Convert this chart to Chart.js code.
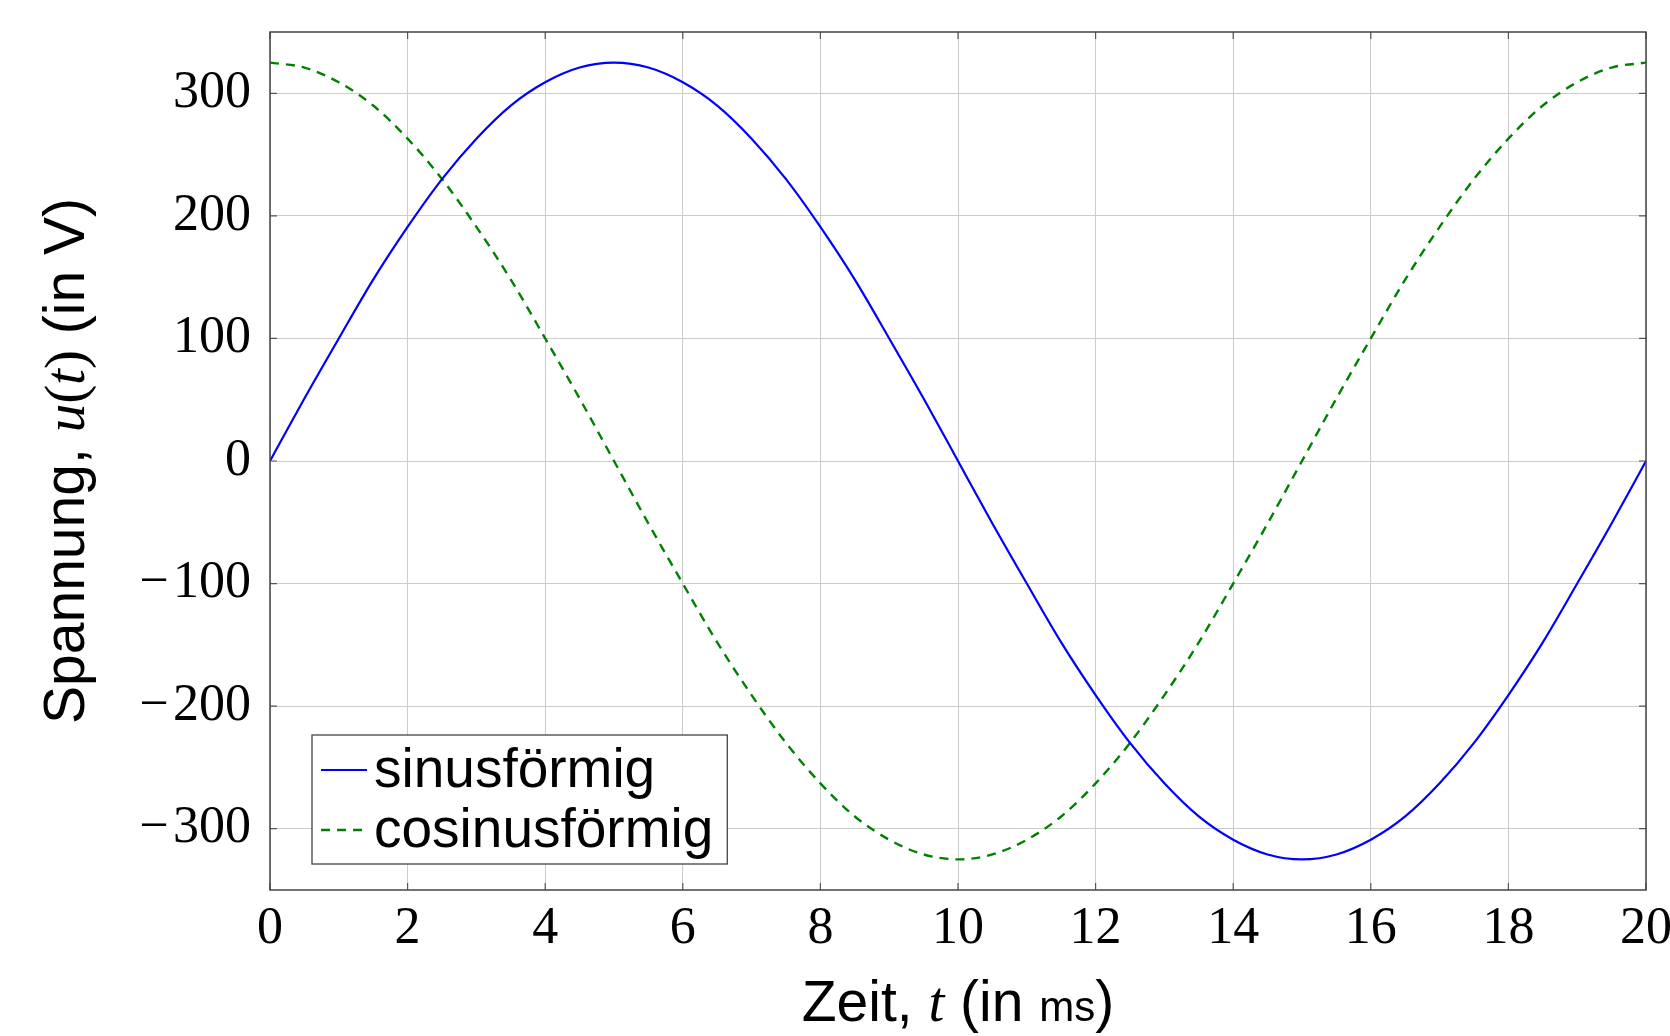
<!DOCTYPE html>
<html>
<head>
<meta charset="utf-8">
<script src="https://cdn.jsdelivr.net/npm/chart.js@4/dist/chart.umd.min.js"></script>
<style>
    body { margin: 0; background: #fff; }
</style>
</head>
<body>
<canvas id="grafico" width="1670" height="1036"></canvas>
<script>
// Zeit in ms
const zeit = [0, 0.5, 1, 1.5, 2, 2.5, 3, 3.5, 4, 4.5, 5, 5.5, 6, 6.5, 7, 7.5, 8, 8.5, 9, 9.5,
    10, 10.5, 11, 11.5, 12, 12.5, 13, 13.5, 14, 14.5, 15, 15.5, 16, 16.5, 17, 17.5, 18, 18.5, 19, 19.5, 20];

// Spannung in V
const sinus = [0, 51, 100, 148, 191, 230, 263, 290, 309, 321, 325, 321, 309, 290, 263, 230, 191, 148, 100, 51,
    0, -51, -100, -148, -191, -230, -263, -290, -309, -321, -325, -321, -309, -290, -263, -230, -191, -148, -100, -51, 0];
const cosinus = [325, 321, 309, 290, 263, 230, 191, 148, 100, 51, 0, -51, -100, -148, -191, -230, -263, -290, -309, -321,
    -325, -321, -309, -290, -263, -230, -191, -148, -100, -51, 0, 51, 100, 148, 191, 230, 263, 290, 309, 321, 325];

const xTicks = [0, 2, 4, 6, 8, 10, 12, 14, 16, 18, 20];
const yTicks = [-300, -200, -100, 0, 100, 200, 300];
const serien = ["sinusförmig", "cosinusförmig"];

const sans = "57px 'Liberation Sans'";
const klein = "42px 'Liberation Sans'";
const serif = "57px 'Liberation Serif'";
const kursiv = "italic 57px 'Liberation Serif'";
const legendeFont = "55px 'Liberation Sans'";

function zeichneText(ctx, teile, cx, y) {
    let breite = 0;
    teile.forEach(([t, f]) => { ctx.font = f; breite += ctx.measureText(t).width; });
    let x = cx - breite / 2;
    ctx.textAlign = "left";
    ctx.textBaseline = "alphabetic";
    teile.forEach(([t, f]) => {
        ctx.font = f;
        ctx.fillText(t, x, y);
        x += ctx.measureText(t).width;
    });
}

const rahmen = {
    id: "rahmen",
    afterDatasetsDraw(chart) {
        const { ctx, chartArea: a, scales } = chart;
        ctx.save();

        // kleine Striche innen
        ctx.strokeStyle = "#555";
        ctx.lineWidth = 1.2;
        ctx.beginPath();
        xTicks.forEach(v => {
            const x = scales.x.getPixelForValue(v);
            ctx.moveTo(x, a.bottom); ctx.lineTo(x, a.bottom - 7);
            ctx.moveTo(x, a.top); ctx.lineTo(x, a.top + 7);
        });
        yTicks.forEach(v => {
            const y = scales.y.getPixelForValue(v);
            ctx.moveTo(a.left, y); ctx.lineTo(a.left + 7, y);
            ctx.moveTo(a.right, y); ctx.lineTo(a.right - 7, y);
        });
        ctx.stroke();

        ctx.lineWidth = 1.5;
        ctx.strokeStyle = "#444";
        ctx.strokeRect(a.left, a.top, a.right - a.left, a.bottom - a.top);

        // Legende
        ctx.font = legendeFont;
        let textBreite = 0;
        chart.data.datasets.forEach(d => { textBreite = Math.max(textBreite, ctx.measureText(d.label).width); });
        const bx = a.left + 42, bh = 129, by = a.bottom - 26 - bh;
        const bw = 9 + 46 + 7 + textBreite + 14;
        ctx.fillStyle = "#fff";
        ctx.fillRect(bx, by, bw, bh);
        ctx.lineWidth = 1.3;
        ctx.strokeStyle = "#444";
        ctx.strokeRect(bx, by, bw, bh);

        chart.data.datasets.forEach((d, i) => {
            const basis = by + 52 + i * 60;
            ctx.beginPath();
            ctx.strokeStyle = d.borderColor;
            ctx.lineWidth = d.borderWidth;
            ctx.setLineDash(d.borderDash || []);
            ctx.moveTo(bx + 9, basis - 17);
            ctx.lineTo(bx + 55, basis - 17);
            ctx.stroke();
            ctx.setLineDash([]);
            ctx.fillStyle = "#000";
            ctx.font = legendeFont;
            ctx.textAlign = "left";
            ctx.textBaseline = "alphabetic";
            ctx.fillText(d.label, bx + 62, basis);
        });
        ctx.restore();
    },
    afterDraw(chart) {
        const { ctx, chartArea: a } = chart;
        ctx.save();
        ctx.fillStyle = "#000";
        zeichneText(ctx, [["Zeit, ", sans], ["t", kursiv], [" (in ", sans], ["ms", klein], [")", sans]],
            (a.left + a.right) / 2, 1021);

        ctx.translate(84, (a.top + a.bottom) / 2);
        ctx.rotate(-Math.PI / 2);
        zeichneText(ctx, [["Spannung, ", sans], ["u", kursiv], ["(", serif], ["t", kursiv], [")", serif], [" (in V)", sans]], 0, 0);
        ctx.restore();
    }
};

const grafico = document.getElementById("grafico");

new Chart(grafico, {
    type: "line",
    data: {
        datasets: [{
            label: serien[0],
            data: zeit.map((t, i) => ({ x: t, y: sinus[i] })),
            borderColor: "#0000ff",
            borderWidth: 2.2,
            pointRadius: 0,
            cubicInterpolationMode: "monotone",
            fill: false
        }, {
            label: serien[1],
            data: zeit.map((t, i) => ({ x: t, y: cosinus[i] })),
            borderColor: "#008000",
            borderWidth: 2.4,
            borderDash: [9, 7],
            pointRadius: 0,
            cubicInterpolationMode: "monotone",
            fill: false
        }]
    },
    options: {
        responsive: false,
        animation: false,
        devicePixelRatio: 1,
        layout: {
            padding: { left: 0, top: 32, right: 24, bottom: 0 }
        },
        plugins: {
            legend: { display: false },
            tooltip: { enabled: false }
        },
        scales: {
            x: {
                type: "linear",
                min: 0,
                max: 20,
                afterBuildTicks: s => { s.ticks = xTicks.map(v => ({ value: v })); },
                afterFit: s => { s.height = 146; s.paddingLeft = 0; s.paddingRight = 0; },
                grid: { color: "#cccccc", drawTicks: false },
                border: { display: false },
                ticks: {
                    color: "#000",
                    padding: 8,
                    maxRotation: 0,
                    autoSkip: false,
                    font: { family: "Liberation Serif", size: 52 }
                }
            },
            y: {
                min: -350,
                max: 350,
                afterBuildTicks: s => { s.ticks = yTicks.map(v => ({ value: v })); },
                afterFit: s => { s.width = 270; s.paddingTop = 0; s.paddingBottom = 0; },
                grid: { color: "#cccccc", drawTicks: false },
                border: { display: false },
                ticks: {
                    color: "#000",
                    padding: 19,
                    autoSkip: false,
                    font: { family: "Liberation Serif", size: 52 },
                    callback: v => String(v).replace("-", "\u2212\u200a")
                }
            }
        }
    },
    plugins: [rahmen]
});
</script>
</body>
</html>
